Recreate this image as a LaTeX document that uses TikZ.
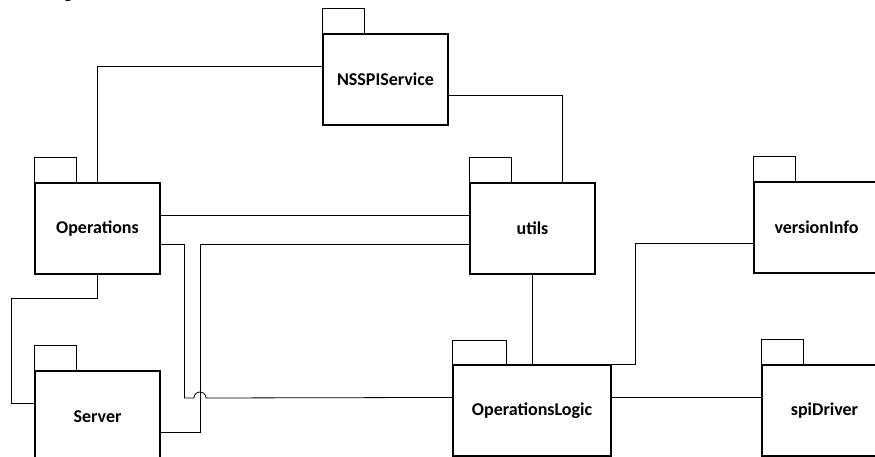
\documentclass[tikz,border=0pt]{standalone}
\usepackage{fontspec}
\setmainfont{Carlito}
\begin{document}
\begin{tikzpicture}[x=1pt,y=-1pt,
  pkgbody/.style={draw=black, line width=1.1pt, fill=white, minimum height=91pt, inner sep=0pt,
     font=\fontsize{18}{20}\selectfont\bfseries},
  pkgtab/.style={draw=black, line width=1.1pt, fill=white},
  link/.style={draw=black, line width=0.8pt}]
\useasboundingbox (0,0) rectangle (875,457);
\fill[white] (0,0) rectangle (875,457);
% cropped title fragment
\node[anchor=base, inner sep=0pt, font=\fontsize{18}{20}\selectfont] (ttl) at (68,-1) {g};
% package bodies
\node[pkgbody, minimum width=125pt] (ops) at (97.5,228.5) {Operations};
\node[pkgbody, minimum width=125pt] (nss) at (385.5,79.5) {NSSPIService};
\node[pkgbody, minimum width=125pt] (utl) at (532.5,228.5) {utils};
\node[pkgbody, minimum width=125pt] (ver) at (816.5,227.5) {versionInfo};
\node[pkgbody, minimum width=125pt] (srv) at (97.5,416.5) {Server};
\node[pkgbody, minimum width=158pt] (ol) at (532,410.5) {OperationsLogic};
\node[pkgbody, minimum width=125pt] (spi) at (824.5,410.5) {spiDriver};
% tabs
\foreach \n in {ops,nss,utl,ver,srv,spi}
  \draw[pkgtab] (\n.north west) rectangle ++(42,-25);
\draw[pkgtab] (ol.north west) rectangle ++(54,-24);
% connectors
\draw[link] (ops.north) |- ([yshift=-33pt]nss.north west);
\draw[link] ([yshift=-62pt]nss.north east) -| ([xshift=93pt]utl.north west);
\draw[link] ([yshift=-33pt]ops.north east) -- ([yshift=-33pt]utl.north west);
\coordinate (j1) at ([xshift=24pt,yshift=-62pt]ops.north east);
\coordinate (jmp) at (194,398);
\draw[link] ([yshift=-62pt]ops.north east) -- (j1) |- (jmp)
   arc[start angle=180, end angle=0, radius=6pt] -- ([yshift=-33pt]ol.north west);
\coordinate (s1) at ([xshift=40pt,yshift=-62pt]srv.north east);
\draw[link] ([yshift=-62pt]srv.north east) -- (s1) |- ([yshift=-62pt]utl.north west);
\coordinate (o1) at (11,298);
\draw[link] (ops.south) |- (o1) |- ([yshift=-33pt]srv.north west);
\draw[link] (utl.south) -- (utl.south |- ol.north);
\coordinate (v1) at ([xshift=24pt]ol.north east);
\draw[link] ([yshift=-62pt]ver.north west) -| (v1) -- (ol.north east);
\draw[link] ([yshift=-33pt]ol.north east) -- ([yshift=-33pt]spi.north west);
\end{tikzpicture}
\end{document}
